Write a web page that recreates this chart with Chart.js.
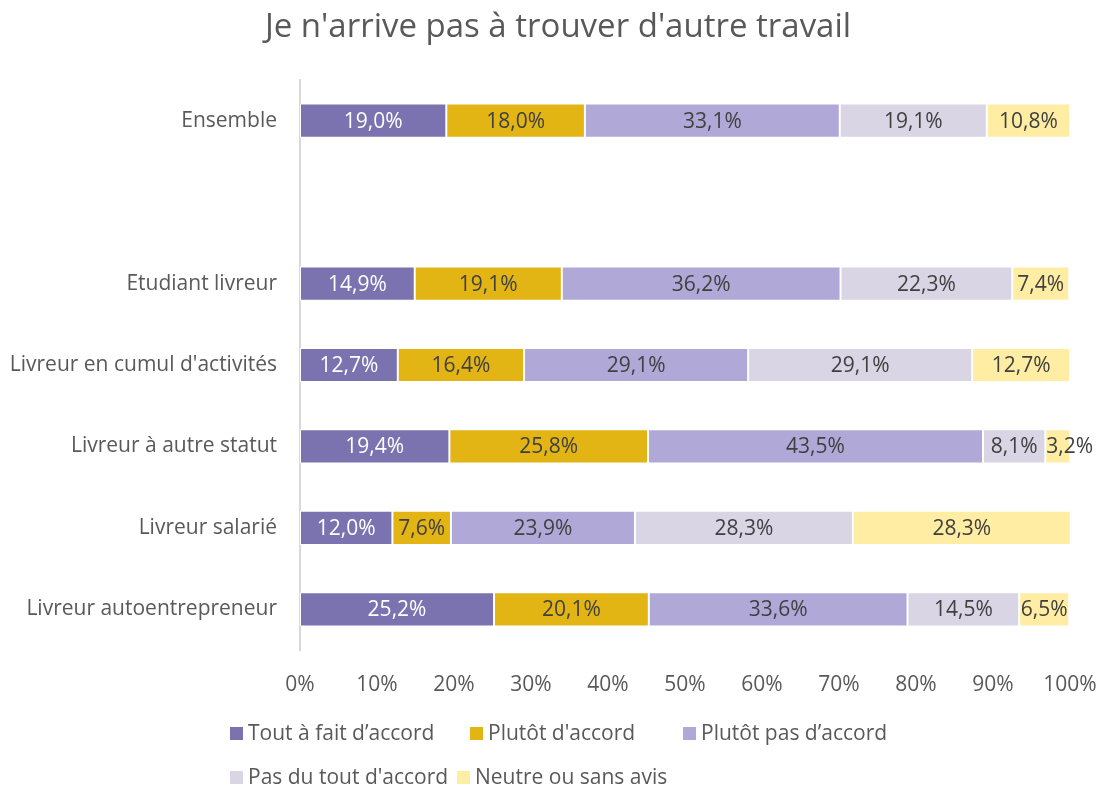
<!DOCTYPE html>
<html>
<head>
<meta charset="utf-8">
<script src="https://cdn.jsdelivr.net/npm/chart.js@4/dist/chart.umd.min.js"></script>
<style>
  html, body { margin: 0; padding: 0; background: #ffffff; }
  #wrap { width: 1103px; height: 789px; position: relative; }
</style>
</head>
<body>
<div id="wrap"><canvas id="chart"></canvas></div>
<script>
// Categories (top to bottom); the empty entry leaves a gap under "Ensemble"
const categories = [
  "Ensemble",
  "",
  "Etudiant livreur",
  "Livreur en cumul d'activités",
  "Livreur à autre statut",
  "Livreur salarié",
  "Livreur autoentrepreneur"
];

const seriesNames = [
  "Tout à fait d’accord",
  "Plutôt d'accord",
  "Plutôt pas d’accord",
  "Pas du tout d'accord",
  "Neutre ou sans avis"
];

// Shares in percent, one array per answer
const toutAFait     = [19.0, null, 14.9, 12.7, 19.4, 12.0, 25.2];
const plutotDaccord = [18.0, null, 19.1, 16.4, 25.8,  7.6, 20.1];
const plutotPas     = [33.1, null, 36.2, 29.1, 43.5, 23.9, 33.6];
const pasDuTout     = [19.1, null, 22.3, 29.1,  8.1, 28.3, 14.5];
const neutre        = [10.8, null,  7.4, 12.7,  3.2, 28.3,  6.5];

const xTickValues = [0, 10, 20, 30, 40, 50, 60, 70, 80, 90, 100];

const titleText = "Je n'arrive pas à trouver d'autre travail";

const seriesColors = ["#7B72B0", "#E2B414", "#B0A9D8", "#D9D5E4", "#FFEDA3"];
const labelColors  = ["#FFFFFF", "#404040", "#404040", "#404040", "#404040"];

const FONT = "'Open Sans', 'DejaVu Sans', sans-serif";
const TEXT = "#595959";

const seriesValues = [toutAFait, plutotDaccord, plutotPas, pasDuTout, neutre];

const datasets = seriesNames.map((name, i) => ({
  label: name,
  data: seriesValues[i],
  backgroundColor: seriesColors[i],
  borderColor: "#FFFFFF",
  borderWidth: 1,
  borderSkipped: false,
  barPercentage: 0.42,
  categoryPercentage: 1.0
}));

function fmt(v) {
  return v.toFixed(1).replace(".", ",") + "%";
}

// Title drawn above the plot
const topTitle = {
  id: "topTitle",
  afterDraw(chart) {
    const ctx = chart.ctx;
    ctx.save();
    ctx.font = "33px " + FONT;
    ctx.fillStyle = TEXT;
    ctx.textAlign = "center";
    ctx.textBaseline = "middle";
    ctx.fillText(titleText, 558, 28);
    ctx.restore();
  }
};

// Value labels centred on each segment; a label wider than its
// segment starts at the segment's left edge instead
const segmentLabels = {
  id: "segmentLabels",
  afterDatasetsDraw(chart) {
    const ctx = chart.ctx;
    ctx.save();
    ctx.font = "21px " + FONT;
    ctx.textBaseline = "middle";
    chart.data.datasets.forEach((ds, di) => {
      const meta = chart.getDatasetMeta(di);
      meta.data.forEach((el, idx) => {
        const v = ds.data[idx];
        if (v === null || v === undefined) return;
        const txt = fmt(v);
        const left = Math.min(el.x, el.base);
        const w = Math.abs(el.x - el.base);
        const tw = ctx.measureText(txt).width;
        ctx.fillStyle = labelColors[di];
        if (tw > w) {
          ctx.textAlign = "left";
          ctx.fillText(txt, left + 1, el.y + 1);
        } else {
          ctx.textAlign = "center";
          ctx.fillText(txt, left + w / 2, el.y + 1);
        }
      });
    });
    ctx.restore();
  }
};

// Legend laid out on two rows under the axis
const legendSlots = [
  { x: 230, y: 733 }, { x: 470, y: 733 }, { x: 683, y: 733 },
  { x: 230, y: 777 }, { x: 457, y: 777 }
];
const bottomLegend = {
  id: "bottomLegend",
  afterDraw(chart) {
    const ctx = chart.ctx;
    ctx.save();
    ctx.font = "21px " + FONT;
    ctx.textBaseline = "middle";
    ctx.textAlign = "left";
    chart.data.datasets.forEach((ds, i) => {
      const s = legendSlots[i];
      ctx.fillStyle = ds.backgroundColor;
      ctx.fillRect(s.x, s.y - 6, 13, 13);
      ctx.fillStyle = TEXT;
      ctx.fillText(ds.label, s.x + 18, s.y + 1);
    });
    ctx.restore();
  }
};

new Chart(document.getElementById("chart"), {
  type: "bar",
  data: { labels: categories, datasets },
  plugins: [topTitle, segmentLabels, bottomLegend],
  options: {
    responsive: true,
    maintainAspectRatio: false,
    animation: false,
    indexAxis: "y",
    layout: { padding: { left: 0, right: 33, top: 80, bottom: 89 } },
    plugins: {
      legend: { display: false },
      tooltip: { enabled: false },
      title: { display: false }
    },
    scales: {
      x: {
        stacked: true,
        min: 0,
        max: 100,
        afterBuildTicks(scale) {
          scale.ticks = xTickValues.map(v => ({ value: v }));
        },
        afterFit(scale) {
          scale.height = 50;
          scale.paddingLeft = 0;
          scale.paddingRight = 0;
        },
        grid: { display: false, drawTicks: false },
        border: { display: false },
        ticks: {
          padding: 22,
          maxRotation: 0,
          color: TEXT,
          font: { family: FONT, size: 21 },
          callback: v => v + "%"
        }
      },
      y: {
        stacked: true,
        afterFit(scale) { scale.width = 300; },
        grid: { display: false, drawTicks: false },
        border: { display: true, color: "#D9D9D9", width: 2 },
        ticks: {
          padding: 23,
          color: TEXT,
          font: { family: FONT, size: 21 },
          autoSkip: false
        }
      }
    }
  }
});
</script>
</body>
</html>
